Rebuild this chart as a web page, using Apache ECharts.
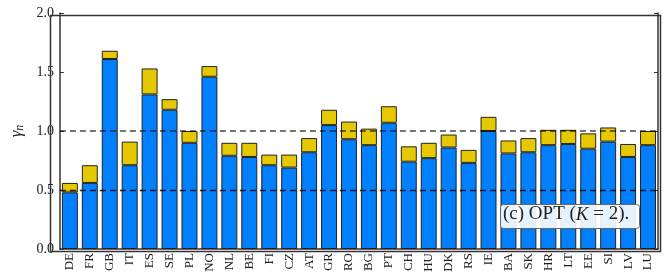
<!DOCTYPE html>
<html><head><meta charset="utf-8">
<script src="https://cdn.jsdelivr.net/npm/echarts@6/dist/echarts.min.js"></script>
<style>html,body{margin:0;padding:0;background:#fff}#c{width:665px;height:279px}</style>
</head><body><div id="c"></div>
<script>
const categories = ['DE','FR','GB','IT','ES','SE','PL','NO','NL','BE','FI','CZ','AT','GR','RO','BG','PT','CH','HU','DK','RS','IE','BA','SK','HR','LT','EE','SI','LV','LU'];
const baseValues = [0.48,0.56,1.61,0.71,1.31,1.18,0.90,1.46,0.79,0.78,0.71,0.69,0.82,1.05,0.93,0.88,1.07,0.74,0.77,0.86,0.73,1.00,0.81,0.82,0.88,0.89,0.85,0.91,0.78,0.88];
const totalValues = [0.56,0.71,1.68,0.91,1.53,1.27,1.00,1.55,0.90,0.90,0.80,0.80,0.94,1.18,1.08,1.02,1.21,0.87,0.90,0.97,0.84,1.12,0.92,0.94,1.01,1.01,0.98,1.03,0.89,1.00];
const extraValues = totalValues.map((t,i)=>+(t-baseValues[i]).toFixed(3));
const yTicks = [0,0.5,1.0,1.5,2.0];
const refLines = [0.5,1.0];

const font = '"Liberation Serif","DejaVu Serif",serif';
const chart = echarts.init(document.getElementById('c'), null, {renderer:'canvas'});
const yCommon = {type:'value',min:0,max:2,interval:0.5,splitLine:{show:false},
  axisLine:{show:true,lineStyle:{color:'#333',width:1.5}},
  axisTick:{show:true,inside:true,length:4,lineStyle:{color:'#333'}}};
chart.setOption({
  animation:false,
  grid:{left:48,right:7,top:13,bottom:30,containLabel:false},
  xAxis:{type:'category',data:categories,boundaryGap:true,
    axisLine:{lineStyle:{color:'#333',width:1.5}},
    axisTick:{show:false},
    axisLabel:{show:false}},
  yAxis:[Object.assign({},yCommon,{
    name:'{g|γ}{s|n}',nameLocation:'middle',nameGap:31,nameRotate:90,
    nameTextStyle:{rich:{g:{fontFamily:font,fontStyle:'italic',fontSize:17,color:'#222'},s:{fontFamily:font,fontStyle:'italic',fontSize:12,color:'#222',verticalAlign:'bottom',padding:[6,0,0,0]}}},
    axisLabel:{fontFamily:font,fontSize:14,color:'#222',margin:6,
      formatter:v=>yTicks.includes(v)?v.toFixed(1):''}}),
    Object.assign({},yCommon,{position:'right',axisLabel:{show:false}})],
  graphic:[
    {type:'rect',left:48,top:13,shape:{width:610,height:236},style:{fill:'none',stroke:'#333',lineWidth:1.5},z:100},
    {type:'rect',left:500,top:204,z:200,shape:{width:139,height:24,r:3},style:{fill:'rgba(255,255,255,0.9)',stroke:'#666',lineWidth:1}},
    {type:'text',left:503,top:205,z:201,style:{text:'(c) OPT ({i|K} = 2).',font:'19px "Liberation Serif", serif',fill:'#222',
      rich:{i:{font:'italic 19px "Liberation Serif", serif',fill:'#222'}}}}
  ],
  series:[
    {name:'base',type:'bar',stack:'s',data:baseValues,barCategoryGap:'20%',
      itemStyle:{color:'rgb(0,128,255)',borderColor:'#222',borderWidth:1},
      markLine:{silent:true,symbol:'none',label:{show:false},z:10,
        data:[{yAxis:refLines[0],lineStyle:{color:'rgba(0,0,0,0.85)',type:[6,4],width:1.3}},
              {yAxis:refLines[1],lineStyle:{color:'rgba(0,0,0,0.55)',type:[6,4],width:2}}]}},
    {name:'extra',type:'bar',stack:'s',data:extraValues,
      itemStyle:{color:'rgb(230,200,0)',borderColor:'#222',borderWidth:1}},
    {name:'labels',type:'custom',clip:false,silent:true,z:50,
      data:categories.map((c,i)=>[i,0]),
      renderItem:function(params,api){
        const p = api.coord([api.value(0),0]);
        return {type:'text',x:p[0],y:p[1]+4,rotation:Math.PI/2,
          style:{text:categories[params.dataIndex],font:'13px "Liberation Serif", serif',fill:'#222',align:'right',verticalAlign:'middle'}};
      }}
  ]
});
</script></body></html>
